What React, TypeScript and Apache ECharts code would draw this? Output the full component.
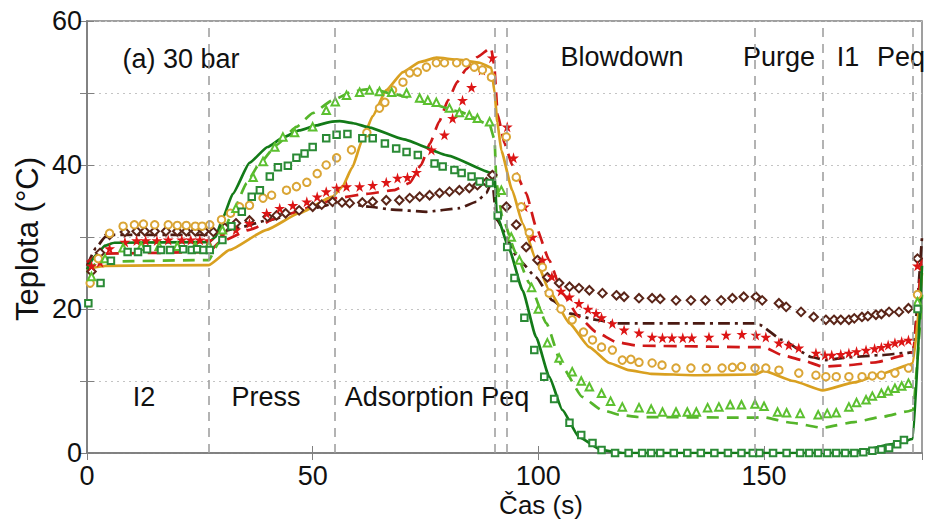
import React, { useEffect, useRef } from "react";
import * as echarts from "echarts";

// Phase boundaries (s)
const phaseBounds = [27, 55, 90.3, 93.1, 148, 163, 183];

// Simulation lines [t, T]
const greenSim: number[][] = [[0,25.5],[2,27.5],[4,28.8],[6,29.2],[27,29.3],[28.5,30],[30,32.5],[32.3,36],[36,40.3],[40,42.5],[43.4,43.8],[47,44.8],[50.8,45.5],[54,46],[56,46.1],[59,45.8],[62.6,45.2],[70,43.6],[80,41.3],[89.6,38.9],[90.3,38.5],[90.8,33],[93.6,28.2],[96.5,22.6],[99.5,16.1],[102.4,10.6],[105.3,6],[109,2.2],[114,0.4],[118.6,0],[168,0],[172,0.4],[178,1.2],[182,1.8],[183,2],[185,26]];
const lightGreenSim: number[][] = [[0,25],[2,26.3],[4,26.6],[27,26.8],[29,29],[32,33],[35.4,37.5],[38,40],[42,42.8],[46.4,45.3],[50,47.2],[54.4,49],[58.8,50.2],[62,50.5],[64,50.4],[67.7,49.9],[75.2,48.7],[82.5,47.4],[89.2,45.6],[90.3,43.5],[90.7,37.5],[92,32.8],[95,27.8],[98,23.6],[101.8,18],[105.3,12],[109.7,7.8],[114,6],[118,5.3],[122,5],[148,4.9],[149.6,5],[156,4.2],[163,3.5],[170,4.3],[176,5],[182,5.8],[183,6],[185,22]];
const goldSim: number[][] = [[0,25.3],[2,25.8],[4,26],[27,26.1],[31.6,28.2],[39.8,31],[47,33.3],[54.4,35.6],[56.6,37],[58.8,39.7],[61,43.5],[63.3,46.8],[66.3,50.4],[70,52.9],[73.7,54.3],[77.4,54.9],[82.5,54.6],[87,54.2],[89.6,53.5],[90.3,50],[90.9,46],[91.8,42],[94.2,36.5],[96.5,31.9],[99.5,26.8],[102.4,22.6],[106.9,18],[111.3,14.7],[115.7,12.5],[120,11.5],[125,11],[135,10.8],[148,10.9],[150,11.4],[156.5,10],[163,8.7],[170,9.8],[176,11],[182,12.2],[183,12.5],[185,25]];
const redSim: number[][] = [[0,26.5],[2,27.3],[4,27.7],[27,27.9],[29.4,29.3],[36,31],[42.7,32.8],[50,34.2],[55.3,35.4],[62,36],[68,36.5],[71.5,37.5],[74,40],[76,43],[78,46],[80,49],[82,51.5],[84,53.3],[86.5,55],[89.5,56.3],[90.2,54],[91,47],[92.5,43],[94.2,40],[97.3,36.1],[99.5,31.4],[102.4,26.8],[105.3,22.2],[109,18.9],[112.8,16.8],[117.3,15.4],[122,14.9],[148,14.7],[150,14.7],[154,13.6],[158.4,12.9],[163,12],[168.8,12.2],[174.8,12.6],[181.4,13.6],[183,14],[185,28]];
const brownSim: number[][] = [[0,26],[2,28.5],[4,30],[6,30.3],[27,30.3],[33,31.2],[40,32.3],[50,34],[56,34.8],[62.6,34.2],[67.7,33.8],[75.2,33.5],[82.5,34],[86.3,34.9],[88.5,36.1],[89.8,37.9],[90.7,32.4],[95.8,26.8],[99.5,24.4],[103.1,21.2],[106.9,19.4],[112.8,18.5],[117.3,18],[148,18],[149,17.8],[154,15.7],[160.6,13.3],[163.7,12.9],[168.8,13.3],[176,13.6],[181.4,13.9],[183,14],[185,30]];

// Experimental points [t, T]
const greenExp: number[][] = [[0.3,20.8],[3,23.6],[5.3,26.7],[9,27.9],[11.3,27.9],[13.3,28.3],[16.4,28.2],[18.4,28.2],[21.3,28.3],[23.2,28.2],[24.4,28.3],[25.8,28.2],[27.2,28.2],[30,29.6],[32,31.5],[34.3,33.5],[36.5,35.6],[38.3,36.5],[40.5,38.4],[42.3,39.7],[44.5,39.9],[46.4,41],[48.2,41.6],[50,42.5],[53,43.7],[55.3,44.2],[57.7,44.3],[61,43.7],[63.3,43.7],[66,43],[68.5,42.3],[70.8,41.8],[73.3,41.4],[77,40.2],[78.8,39.8],[81.4,39.3],[83,38.9],[85.2,38.4],[87,37.7],[89.2,37.5],[91,33],[93.1,28.6],[94.7,24.3],[96.9,18.8],[99.1,14.3],[101.3,10.6],[103.5,7.5],[106.9,4.2],[109.5,2.5],[112,1.4],[114,0.4],[117,0],[120,0],[123,0],[125,0],[127,0],[130,0],[133,0],[136,0],[139,0],[142,0],[145,0],[147.5,0],[149,0],[152,0],[155,0],[158,0],[160,0],[162,0],[164,0],[166,0],[168,0],[170,0],[172,0.1],[174,0.3],[176,0.5],[177.7,0.7],[179.5,1.2],[181,1.8],[184,20]];
const lightGreenExp: number[][] = [[1,24.5],[4,27],[8,28.5],[12,28.7],[16,28.7],[20,28.7],[24,28.7],[27,28.8],[30,31],[33,34],[36.8,38.3],[39,40.5],[41.6,42.5],[43.4,43.9],[46,44.5],[50,45.3],[53,47.6],[55,48.8],[57.5,49.7],[60.4,50.1],[62.6,50.4],[64.8,50.2],[67.5,50.1],[70.8,50],[73.7,49.3],[75.5,49],[77.4,48.7],[80.3,47.9],[82.5,47.3],[84.7,46.9],[86.5,46.5],[89.2,46],[91.8,36.5],[94,30],[95.8,26.8],[98.5,23],[100,20],[102,15.3],[104.6,13.2],[107.5,11.3],[109.5,10],[111.3,9.2],[114,8.3],[116,7.2],[118.6,6.4],[122.3,6.3],[125,6.1],[127.5,5.7],[130.5,5.7],[133,5.7],[135,5.7],[137.5,6.3],[140,6.4],[142.5,6.7],[145,6.7],[148,6.8],[150,6.5],[153,5.7],[155,5.6],[158,5.5],[162,5.3],[164,5.5],[166,5.6],[168.8,6.4],[170.5,7],[172.6,7.4],[174,7.9],[176,8.3],[177.5,8.6],[179,9],[180.5,9.3],[182,9.7],[184,21]];
const goldExp: number[][] = [[0.7,23.6],[2.5,27],[5,30.5],[8,31.5],[10.5,31.7],[12.5,31.8],[15,31.7],[18,31.7],[20,31.6],[22,31.6],[24,31.5],[25.5,31.5],[27.2,31.7],[29.8,32.4],[31.8,33.3],[33.8,34.2],[36,34.4],[39,35.4],[40.9,35.8],[44.2,36.5],[46.4,37],[48.7,37.6],[51,38.8],[53,40],[55.3,41],[58.6,42.1],[62,44.5],[64.8,47.9],[66,48.7],[67.7,50.4],[70,51.5],[71.5,52.8],[73.2,52.9],[75.2,53.6],[77.4,54.2],[79.2,54.2],[81.9,54.2],[84,54.2],[85.8,53.6],[87.6,53.2],[89.6,52.2],[92.9,43.9],[95.1,38.3],[96.2,34.2],[98,30.6],[100.9,25.8],[102.4,22.2],[105,20],[107.5,18.5],[110,16.8],[112,15.7],[114,14.7],[116.4,14.3],[118.6,12.9],[120.5,13],[122.3,12.6],[125.2,12.5],[127.4,12.2],[130.5,11.8],[133.8,11.8],[137.2,11.8],[140.7,11.8],[143,11.9],[145,12],[148,11.8],[150.4,11.8],[153.3,11.5],[157.7,11.1],[161.5,10.8],[163.7,10.6],[166,10.6],[168.8,10.6],[171.7,10.6],[174,10.7],[176,10.8],[179,11.1],[182,11.8],[184,22]];
const redExp: number[][] = [[1,26],[2.9,26.5],[5,28.4],[8.4,29.3],[11,29.5],[13,29.5],[15.5,29.5],[18,29.6],[21,29.6],[23,29.6],[25,29.6],[27,29.5],[30,30.5],[33,31],[36,31.9],[39.8,33.3],[42.7,34],[45.6,34.4],[48.7,34.9],[51,35.6],[53,36.3],[55.3,36.8],[57.5,37],[60.4,37],[63.3,37.2],[66.3,37.6],[68.8,38.2],[71,38.3],[73,39],[76.3,42.1],[79.2,44.2],[81,46.5],[83.2,49],[85.2,50.8],[87.5,53.2],[89.8,54.9],[93.1,45.3],[94.5,41],[96.9,34.2],[98.7,30],[100.9,26.8],[103,24.5],[105,22.5],[106.9,21.7],[109,20.8],[111,20],[112.8,19.4],[114,18.8],[116.4,18],[119,17.1],[122.3,16.7],[125.2,16.1],[127.5,16],[129.6,16],[132,16],[134,16],[137.8,16.1],[141.6,16.4],[145.1,16.5],[148.2,16.4],[150.4,16.1],[153.3,15.3],[155.5,15],[157.7,14.6],[161.5,13.9],[163.5,13.6],[165,13.6],[167,13.7],[168.8,13.9],[170.5,14.1],[172.6,14.3],[174.5,14.5],[176,14.7],[177.5,15],[179,15.3],[180.5,15.5],[182,15.7],[184,26]];
const brownExp: number[][] = [[1,25.2],[2.9,27.8],[5,30.3],[8.4,30.7],[11,30.8],[12.8,30.8],[15,30.8],[17.5,30.8],[20,30.8],[22,30.8],[24,30.8],[26,30.8],[28,30.7],[30.5,31.3],[33,31.9],[36,32.3],[40,32.8],[42,33],[44,33.3],[47,33.7],[50,34.2],[52,34.5],[54.4,34.9],[56.5,34.8],[58.2,34.7],[61,34.8],[63.3,34.9],[66.3,35.1],[69.2,35.1],[71.5,35.4],[73.7,35.6],[75.9,35.8],[78.1,36.1],[80.3,36.3],[82.5,36.5],[84.7,36.8],[86.5,37.2],[88.5,37.6],[89.8,38.6],[92.9,34.2],[95.1,31.7],[97.3,28.6],[99.8,26.8],[102,24.4],[104.6,23.6],[106.9,23.1],[109,22.9],[111.3,22.6],[114.2,22.2],[117.3,21.9],[119,21.7],[122.3,21.5],[125.2,21.5],[127,21.4],[130.5,21.2],[133.8,21.2],[137,21.2],[140.5,21.2],[143,21.5],[145.5,21.7],[148.2,21.7],[149.6,21.2],[153.3,20.8],[154.9,20.3],[158.2,19.6],[161,18.9],[163.7,18.5],[165.5,18.5],[167,18.5],[168.8,18.5],[170,18.7],[171.7,18.9],[173,19],[174.8,19.2],[176,19.3],[177.7,19.6],[179.9,19.6],[182,20.1],[184,27]];

const STAR = "path://M50,0 L61,35 L98,35 L68,57 L79,91 L50,70 L21,91 L32,57 L2,35 L39,35 Z";
const FONT = "'Liberation Sans', Arial, sans-serif";

export default function App() {
  const ref = useRef<HTMLDivElement>(null);
  useEffect(() => {
    if (!ref.current) return;
    const chart = echarts.init(ref.current, undefined, { renderer: "svg" });
    const lineS = (data: number[][], color: string, type: any, z = 3) => ({
      type: "line", data, showSymbol: false, smooth: 0.15, smoothMonotone: "x",
      lineStyle: { color, width: 2.7, type }, z, silent: true,
    });
    const scat = (data: number[][], color: string, symbol: string, size: number) => ({
      type: "scatter", data, symbol, symbolSize: size, z: 4, silent: true,
      itemStyle: { color, borderWidth: 1.5, opacity: 1 },
    });
    const txt = (text: string, x: number, y: number, size = 27, extra: any = {}) => ({
      type: "text", x, y, ...extra,
      style: { text, fill: "#111", font: `${size}px ${FONT}`, textAlign: "center", textVerticalAlign: "middle" },
    });
    chart.setOption({
      animation: false,
      backgroundColor: "#fff",
      grid: { left: 87, right: 7, top: 21, bottom: 66, show: true, borderColor: "#808080", borderWidth: 1.5, backgroundColor: "transparent" },
      xAxis: [
        { type: "value", min: 0, max: 185, interval: 50,
          axisLine: { show: true, lineStyle: { color: "#808080", width: 1.5 } },
          axisTick: { show: true, inside: true, length: 7, lineStyle: { color: "#808080" } },
          splitLine: { show: false },
          axisLabel: { color: "#111", fontSize: 27, fontFamily: FONT, margin: 9, showMaxLabel: false,
            formatter: (v: number) => (v % 50 === 0 ? String(v) : "") } },
        { type: "value", position: "top", min: 0, max: 185, interval: 50,
          axisLine: { show: true, lineStyle: { color: "#808080", width: 1.5 } },
          axisTick: { show: true, inside: true, length: 7, lineStyle: { color: "#808080" } },
          axisLabel: { show: false }, splitLine: { show: false } },
      ],
      yAxis: [
        { type: "value", min: 0, max: 60, interval: 10,
          axisLine: { show: true, lineStyle: { color: "#808080", width: 1.5 } },
          axisTick: { show: true, inside: true, length: 7, lineStyle: { color: "#808080" } },
          splitLine: { show: true, lineStyle: { color: "#c4c4c4", type: [2, 4], width: 1.2 } },
          axisLabel: { color: "#111", fontSize: 27, fontFamily: FONT, margin: 5,
            formatter: (v: number) => (v % 20 === 0 ? String(v) : "") } },
        { type: "value", position: "right", min: 0, max: 60, interval: 10,
          axisLine: { show: true, lineStyle: { color: "#808080", width: 1.5 } },
          axisTick: { show: true, inside: true, length: 7, lineStyle: { color: "#808080" } },
          axisLabel: { show: false }, splitLine: { show: false } },
      ],
      graphic: [
        txt("(a) 30 bar", 181, 59),
        txt("Blowdown", 622, 57),
        txt("Purge", 779, 57),
        txt("I1", 848, 57),
        txt("Peq", 901, 57),
        txt("I2", 144, 397),
        txt("Press", 266, 397),
        txt("Adsorption Peq", 437, 397),
        txt("Čas (s)", 541, 505, 26),
        txt("Teplota (°C)", 27, 239, 31, { rotation: Math.PI / 2 }),
      ],
      series: [
        { type: "line", data: [], silent: true,
          markLine: { silent: true, symbol: ["none", "none"], label: { show: false },
            lineStyle: { color: "#9a9a9a", type: [9, 7], width: 1.5 },
            data: phaseBounds.map((x) => ({ xAxis: x })) } },
        lineS(brownSim, "#4a1a12", [12, 5, 3, 5]),
        lineS(redSim, "#d01818", [13, 8]),
        lineS(goldSim, "#d9a020", "solid"),
        lineS(lightGreenSim, "#55b52a", [12, 8]),
        lineS(greenSim, "#137a18", "solid"),
        scat(brownExp, "#5a2518", "emptyDiamond", 8.5),
        scat(redExp, "#dd1515", STAR, 11),
        scat(goldExp, "#daa535", "emptyCircle", 7.5),
        scat(lightGreenExp, "#5cc030", "emptyTriangle", 7.5),
        scat(greenExp, "#2a8a35", "emptyRect", 6.5),
      ],
    });
    return () => chart.dispose();
  }, []);
  return <div ref={ref} style={{ position: "absolute", left: 0, top: 0, width: 929, height: 519 }} />;
}
